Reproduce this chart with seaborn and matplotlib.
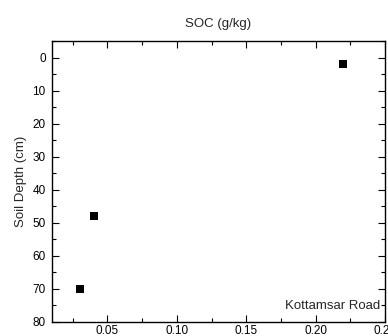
import pandas as pd
import seaborn as sns
import matplotlib.pyplot as plt
from matplotlib.ticker import MultipleLocator

soc = [0.22, 0.04, 0.03]
depth = [2, 48, 70]
site = "Kottamsar Road"

df = pd.DataFrame({"SOC": soc, "Depth": depth})

sns.set_style("ticks")
plt.rcParams['font.family'] = ['Liberation Sans', 'DejaVu Sans']

fig = plt.figure(figsize=(3.88, 3.36), dpi=100)
ax = fig.add_axes([52 / 388, 1 - 322 / 336, 333 / 388, 281 / 336])

sns.scatterplot(data=df, x="SOC", y="Depth", marker="s", color="black",
                s=30, edgecolor="black", linewidth=0, ax=ax, legend=False)

ax.set_xlim(0.01, 0.25)
ax.set_ylim(80, -5)
ax.xaxis.set_major_locator(MultipleLocator(0.05))
ax.xaxis.set_minor_locator(MultipleLocator(0.025))
ax.yaxis.set_major_locator(MultipleLocator(10))
ax.yaxis.set_minor_locator(MultipleLocator(5))
ax.xaxis.set_major_formatter(plt.FuncFormatter(lambda v, p: f"{v:.2f}"))

ax.tick_params(which="both", direction="in", top=True, right=True,
               labeltop=False, labelright=False, labelsize=8.5, width=0.8,
               colors="black")
ax.tick_params(axis="y", pad=4.5)
ax.tick_params(axis="x", pad=2)
ax.tick_params(which="major", length=5)
ax.tick_params(which="minor", length=3)
for sp in ax.spines.values():
    sp.set_color("black")
    sp.set_linewidth(1.0)

ax.set_xlabel("")
ax.set_ylabel("Soil Depth (cm)", fontsize=9.5, labelpad=4)
ax.set_title("SOC (g/kg)", fontsize=9.5, pad=10)
ax.text(0.985, 0.035, site, transform=ax.transAxes, ha="right", va="bottom",
        fontsize=9.5)

fig.savefig("out.png", dpi=100)
